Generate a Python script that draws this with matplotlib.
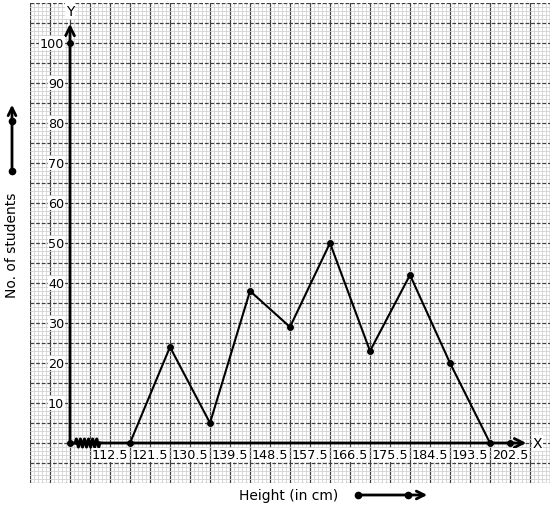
import numpy as np
import matplotlib.pyplot as plt
from matplotlib.ticker import MultipleLocator
from matplotlib.patches import FancyArrowPatch

# frequency polygon data
heights = [121.5, 130.5, 139.5, 148.5, 157.5, 166.5, 175.5, 184.5, 193.5, 202.5]
students = [0, 24, 5, 38, 29, 50, 23, 42, 20, 0]
x_labels = [112.5, 121.5, 130.5, 139.5, 148.5, 157.5, 166.5, 175.5, 184.5, 193.5, 202.5]
y_labels = [10, 20, 30, 40, 50, 60, 70, 80, 90, 100]
x0 = 108  # where the axes cross (after the kink)

fig = plt.figure(figsize=(5.54, 5.10), dpi=100)
ax = fig.add_axes([30 / 554, 26 / 510, 520 / 554, 480 / 510])
ax.set_xlim(99, 216)
ax.set_ylim(-10, 110)

# graph paper
ax.xaxis.set_major_locator(MultipleLocator(4.5))
ax.xaxis.set_minor_locator(MultipleLocator(0.9))
ax.yaxis.set_major_locator(MultipleLocator(5))
ax.yaxis.set_minor_locator(MultipleLocator(1))
ax.grid(which='minor', color='#d2d2d2', lw=0.6)
ax.grid(which='major', axis='x', color='#404040', lw=0.9)
ax.grid(which='major', axis='y', color='#404040', lw=0.9, ls=(0, (3, 1.5)))
ax.set_axisbelow(True)
ax.tick_params(which='both', length=0, labelbottom=False, labelleft=False)
for s in ax.spines.values():
    s.set_visible(False)

# axes with arrows
ax.annotate('', xy=(211.3, 0), xytext=(x0, 0),
            arrowprops=dict(arrowstyle='->', lw=2, color='black', mutation_scale=16))
ax.annotate('', xy=(x0, 105.5), xytext=(x0, 0),
            arrowprops=dict(arrowstyle='->', lw=2, color='black', mutation_scale=16))
ax.text(213.2, 0, 'X', ha='center', va='center', fontsize=10,
        bbox=dict(fc='white', ec='none', pad=0.5))
ax.text(x0, 108, 'Y', ha='center', va='center', fontsize=10,
        bbox=dict(fc='white', ec='none', pad=0.5))

# kink on the x axis
kx = np.linspace(109.2, 114.7, 25)
ky = np.array([0] + [1, 0, -1, 0] * 6)
ax.plot(kx, ky, color='black', lw=2.2)

# tick labels
for v in x_labels:
    ax.text(v + 0.45, -3, f'{v}', ha='left', va='center', fontsize=9.2,
            bbox=dict(fc='white', ec='none', pad=0.3))
for v in y_labels:
    ax.text(x0 - 1.3, v, f'{v}', ha='right', va='center', fontsize=9.2,
            bbox=dict(fc='white', ec='none', pad=0.3))

# polygon
ax.plot(heights, students, color='black', lw=1.5, marker='o', ms=4)
ax.plot([x0, x0, 207], [0, 100, 0], 'o', color='black', ms=4)

# outside labels
fig.text(12 / 554, 1 - 245 / 510, 'No. of students', rotation=90,
         ha='center', va='center', fontsize=10)
fig.text(289 / 554, 1 - 496 / 510, 'Height (in cm)', ha='center', va='center',
         fontsize=10)
fig.patches.append(FancyArrowPatch(
    (12 / 554, 1 - 172 / 510), (12 / 554, 1 - 103 / 510), transform=fig.transFigure,
    arrowstyle='->', mutation_scale=14, lw=2, color='black'))
fig.patches.append(FancyArrowPatch(
    (358 / 554, 1 - 496 / 510), (430 / 554, 1 - 496 / 510), transform=fig.transFigure,
    arrowstyle='->', mutation_scale=14, lw=2, color='black'))
fig.lines.append(plt.Line2D([12 / 554, 12 / 554], [1 - 172 / 510, 1 - 122 / 510],
                            transform=fig.transFigure, ls='none', marker='o',
                            ms=4.5, color='black'))
fig.lines.append(plt.Line2D([358 / 554, 408 / 554], [1 - 496 / 510, 1 - 496 / 510],
                            transform=fig.transFigure, ls='none', marker='o',
                            ms=4.5, color='black'))

fig.savefig('out.png', dpi=100)
